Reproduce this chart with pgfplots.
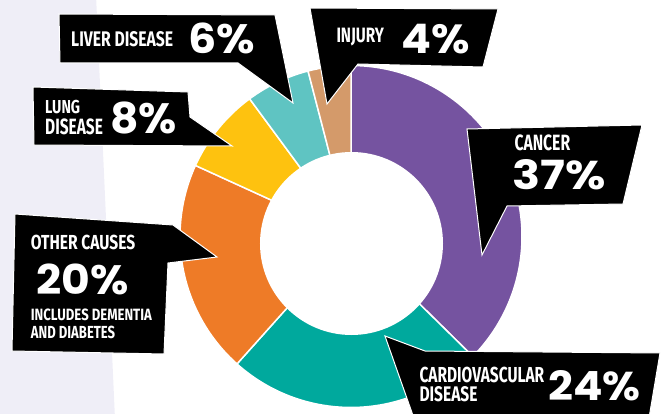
\documentclass[border=0pt]{standalone}
\usepackage{fontspec}
\usepackage{graphicx}
\usepackage{pgfplots}
\usepackage{pgfplotstable}
\pgfplotsset{compat=1.18}
\newfontfamily\namefont{Fira Sans}
\newfontfamily\pctfont{Poppins}

\definecolor{cCancer}{HTML}{7553A0}
\definecolor{cCardio}{HTML}{00A99D}
\definecolor{cOther}{HTML}{EE7B27}
\definecolor{cLung}{HTML}{FEC20F}
\definecolor{cLiver}{HTML}{5FC4C2}
\definecolor{cInjury}{HTML}{D49A6A}
\definecolor{lav}{HTML}{EFEEF7}

% share of deaths, clockwise from the top
\pgfplotstableread{
name value col
Cancer 37 cCancer
Cardiovascular 24 cCardio
Other 20 cOther
Lung 8 cLung
Liver 6 cLiver
Injury 4 cInjury
}\deaths

% white label: x, baseline, width, height, text
\newcommand\lab[5]{\node[anchor=base west, inner sep=0pt, text=white] at (#1,#2) {\resizebox{#3bp}{#4bp}{#5}};}
\newcommand\nm[1]{{\namefont\bfseries #1}}
\newcommand\pc[1]{{\pctfont\bfseries #1}}

\begin{document}
\begin{tikzpicture}
\path[use as bounding box] (0,0) rectangle (666bp,414bp);
\begin{axis}[
  at={(0,0)}, anchor=origin,
  x=1bp, y=1bp, scale only axis,
  xmin=0, xmax=666, ymin=0, ymax=414,
  hide axis, clip=true]

% background strip
\fill[lav] (-5,419) -- (96,419) -- (115,-5) -- (-5,-5) -- cycle;

% donut
\def\cum{0}
\pgfplotsforeachungrouped \i in {0,...,5}{
  \pgfplotstablegetelem{\i}{value}\of\deaths \let\v\pgfplotsretval
  \pgfplotstablegetelem{\i}{col}\of\deaths \let\c\pgfplotsretval
  \pgfmathsetmacro\sa{90-\cum/99*360}
  \pgfmathsetmacro\ea{90-(\cum+\v)/99*360}
  \pgfmathsetmacro\cum{\cum+\v}
  \edef\temp{\noexpand\filldraw[fill=\c, draw=white, line width=1.5bp]
    (axis cs:351,177.5) -- ++(\sa:171bp)
    arc[start angle=\sa, end angle=\ea, radius=171bp] -- cycle;}
  \temp
}
\fill[white] (axis cs:351.5,170.5) circle[radius=91.5bp];

% callouts
\filldraw[fill=black, draw=white, line width=1bp]
  (59,400) -- (275,399) -- (293,311) -- (238,351) -- (60,351) -- cycle;
\filldraw[fill=black, draw=white, line width=1bp]
  (310,406) -- (498,405) -- (483,347) -- (358,350) -- (327,310) -- cycle;
\filldraw[fill=black, draw=white, line width=1bp]
  (467,285) -- (642,289) -- (623,210) -- (507,208) -- (482,159) -- cycle;
\filldraw[fill=black, draw=white, line width=1bp]
  (385,78) -- (425,63) -- (660,61) -- (648,-10) -- (416,-10) -- cycle;
\filldraw[fill=black, draw=white, line width=1bp]
  (15,200) -- (173,189) -- (217,157) -- (168,151) -- (164,60) -- (12,63) -- cycle;
\filldraw[fill=black, draw=white, line width=1bp]
  (33,327) -- (188,322) -- (190,297) -- (232,268) -- (34,269) -- cycle;

% texts
\lab{71}{367.3}{102}{15}{\nm{LIVER DISEASE}}
\lab{188.3}{360.7}{66.7}{30.6}{\pc{6\%}}
\lab{336.3}{371.3}{47.4}{14.4}{\nm{INJURY}}
\lab{401.3}{360.7}{68.4}{29.3}{\pc{4\%}}
\lab{514.3}{263.3}{55.7}{15.7}{\nm{CANCER}}
\lab{512.7}{224}{93.3}{30}{\pc{37\%}}
\lab{419.3}{31.3}{124.7}{15.4}{\nm{CARDIOVASCULAR}}
\lab{419.3}{12.3}{58}{15}{\nm{DISEASE}}
\lab{548.3}{13.3}{92.4}{30}{\pc{24\%}}
\lab{30.7}{164.3}{104.3}{14.4}{\nm{OTHER CAUSES}}
\lab{36}{119.7}{92.3}{30.6}{\pc{20\%}}
\lab{30.7}{93.7}{121}{11.6}{\nm{INCLUDES DEMENTIA}}
\lab{30.7}{75.3}{84.3}{12.4}{\nm{AND DIABETES}}
\lab{45}{300.7}{35}{13.3}{\nm{LUNG}}
\lab{45}{280}{57.7}{15.7}{\nm{DISEASE}}
\lab{110}{280.7}{66.7}{31.6}{\pc{8\%}}
\end{axis}
\end{tikzpicture}
\end{document}
